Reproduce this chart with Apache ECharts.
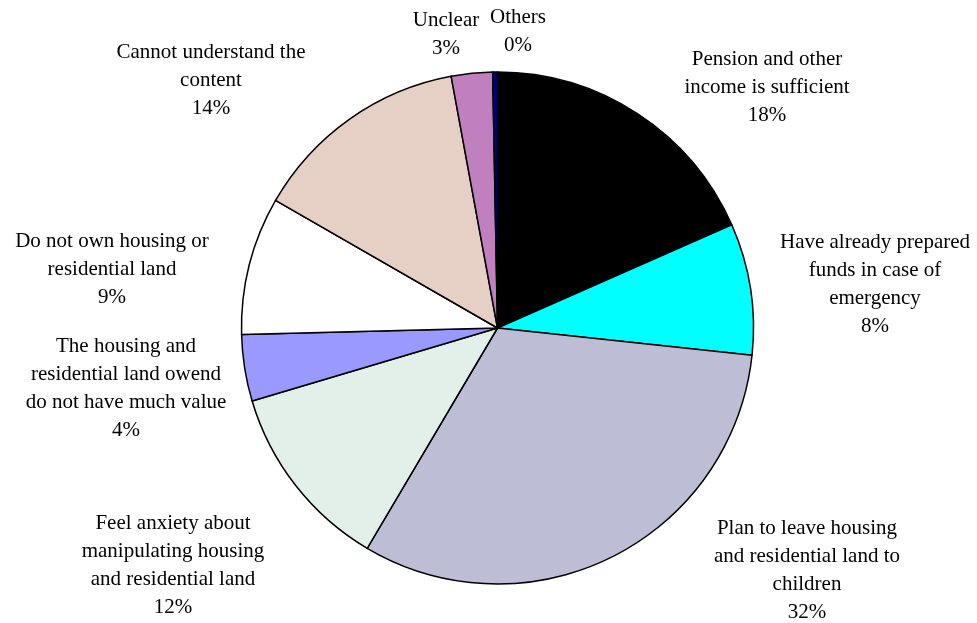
<!DOCTYPE html>
<html>
<head>
<meta charset="utf-8">
<script src="https://cdn.jsdelivr.net/npm/echarts@6/dist/echarts.min.js"></script>
<style>
  html, body { margin: 0; padding: 0; background: #fff; }
  #chart { width: 977px; height: 623px; }
</style>
</head>
<body>
<div id="chart"></div>
<script>
// Reasons given, as share of respondents (%), clockwise from 12 o'clock
const categories = [
  'Pension and other\nincome is sufficient',
  'Have already prepared\nfunds in case of\nemergency',
  'Plan to leave housing\nand residential land to\nchildren',
  'Feel anxiety about\nmanipulating housing\nand residential land',
  'The housing and\nresidential land owend\ndo not have much value',
  'Do not own housing or\nresidential land',
  'Cannot understand the\ncontent',
  'Unclear',
  'Others'
];
const shares = [18.4, 8.3, 31.8, 11.9, 4.2, 8.7, 13.8, 2.6, 0.3];
const colors = ['#000000', '#00FFFF', '#BDBDD6', '#E3F0EA', '#9999FF', '#FFFFFF', '#E6D0C5', '#C080C0', '#000080'];

// Label anchor points (text block centres) for each slice
const labelAnchors = [
  [767, 87], [875, 284], [807, 570], [173, 565], [126, 388],
  [112, 269], [211, 80], [446, 34], [518, 31]
];

const total = shares.reduce((a, b) => a + b, 0);

const chart = echarts.init(document.getElementById('chart'), null, { renderer: 'canvas' });
chart.setOption({
  backgroundColor: '#ffffff',
  animation: false,
  series: [{
    type: 'pie',
    center: [497.5, 328],
    radius: 256,
    startAngle: 90,
    clockwise: true,
    avoidLabelOverlap: false,
    data: categories.map((name, i) => ({
      name: name,
      value: shares[i],
      itemStyle: { color: colors[i] }
    })),
    itemStyle: { borderColor: '#000000', borderWidth: 1.5 },
    label: {
      show: true,
      position: 'outside',
      fontFamily: '"Liberation Serif", "Times New Roman", serif',
      fontSize: 21,
      lineHeight: 28,
      color: '#000000',
      align: 'center',
      formatter: p => p.name + '\n' + Math.round(p.value / total * 100) + '%'
    },
    labelLine: { show: false },
    labelLayout: p => ({
      x: labelAnchors[p.dataIndex][0],
      y: labelAnchors[p.dataIndex][1],
      align: 'center',
      verticalAlign: 'middle'
    }),
    emphasis: { disabled: true }
  }]
});
</script>
</body>
</html>
